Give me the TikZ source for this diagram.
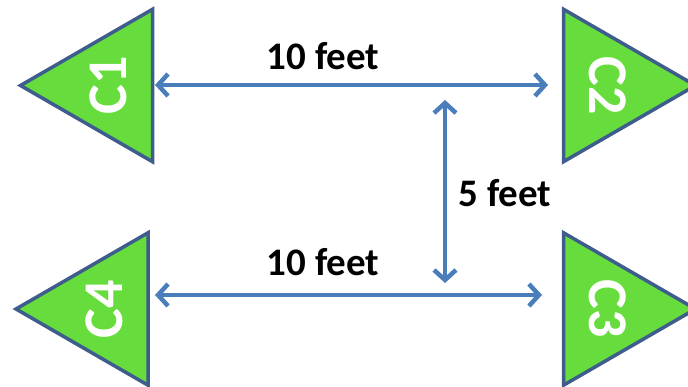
\documentclass[tikz,border=0pt]{standalone}
\usepackage{fontspec}
\setmainfont{Carlito}
\usetikzlibrary{arrows.meta,shapes.geometric}

\begin{document}
\begin{tikzpicture}[x=1pt, y=-1pt,
        cone/.style={draw=coneline, fill=conegreen, line width=3.5pt,
            regular polygon, regular polygon sides=3, minimum size=176pt,
            inner sep=0pt, text=white,
            font=\fontsize{56}{56}\selectfont\bfseries},
        gap/.style={<->, arrowblue, line width=4.5pt,
            >={Straight Barb[length=10pt, width=22pt]}},
        dist/.style={font=\fontsize{39}{39}\selectfont\bfseries}]
            \definecolor{conegreen}{RGB}{102,221,60}
            \definecolor{coneline}{RGB}{62,92,140}
            \definecolor{arrowblue}{RGB}{74,126,187}
            \useasboundingbox (0,0) rectangle (688,387);

            \node[cone, rotate=90] (C1) at (108.5,85.5) {C1};
            \node[cone, rotate=-90] (C2) at (607.5,85.5) {C2};
            \node[cone, rotate=-90] (C3) at (607.5,309) {C3};
            \node[cone, rotate=90] (C4) at (104,309) {C4};

            \coordinate (a1) at (155,85);
            \coordinate (a2) at (548,85);
            \coordinate (b1) at (155,295);
            \coordinate (b2) at (542,295);
            \coordinate (v1) at (445,100);
            \coordinate (v2) at (445,283);

            \draw[gap] (a1) -- (a2);
            \draw[gap] (b1) -- (b2);
            \draw[gap] (v1) -- (v2);

            \node[dist] (top) at (323,56) {10 feet};
            \node[dist] (bottom) at (323,262) {10 feet};
            \node[dist, anchor=west] (side) at (455,193) {5 feet};
        \end{tikzpicture}
\end{document}
